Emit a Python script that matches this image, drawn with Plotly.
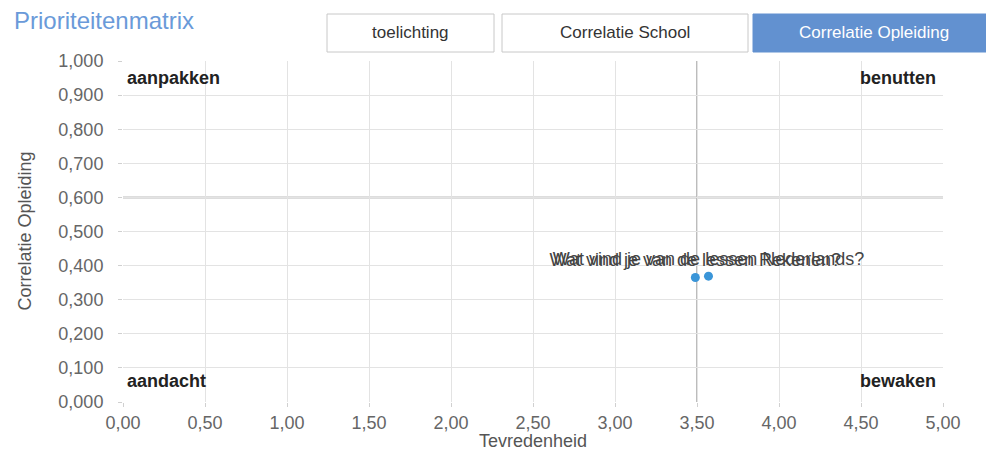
import plotly.graph_objects as go

# Data
questions = ["Wat vind je van de lessen Rekenen?", "Wat vind je van de lessen Nederlands?"]
tevredenheid = [3.49, 3.57]
correlatie = [0.365, 0.369]
x_threshold = 3.5
y_threshold = 0.6
quadrants = ["aanpakken", "benutten", "aandacht", "bewaken"]
buttons = ["toelichting", "Correlatie School", "Correlatie Opleiding"]

FONT = "Liberation Sans, Arial, sans-serif"
W, H = 994, 450
ML, MR, MT, MB = 115, 59, 53, 56
pw = W - ML - MR
ph = H - MT - MB


def px2x(p):
    return (p - ML) / pw


def py2y(p):
    return (H - MB - p) / ph


fig = go.Figure()
fig.add_trace(go.Scatter(
    x=tevredenheid, y=correlatie, mode="markers+text",
    text=questions, textposition="top center",
    textfont=dict(family=FONT, size=18, color="#444"),
    marker=dict(size=9, color="#3a95d8"),
    hoverinfo="x+y+text", showlegend=False, cliponaxis=False,
))

fig.add_shape(type="line", x0=x_threshold, x1=x_threshold, y0=0, y1=1,
              xref="x", yref="y", line=dict(color="#bcbcbc", width=2), layer="below")
fig.add_shape(type="line", x0=0, x1=5, y0=y_threshold, y1=y_threshold,
              xref="x", yref="y", line=dict(color="#bcbcbc", width=2), layer="below")

qfont = dict(family=FONT, size=18, color="#222")
pos = [(0, 1, "left", "top", 2, -5), (1, 1, "right", "top", -5, -5),
       (0, 0, "left", "bottom", 2, 9), (1, 0, "right", "bottom", -5, 9)]
for q, (px, py, xa, ya, xs, ys) in zip(quadrants, pos):
    fig.add_annotation(text="<b>%s</b>" % q, x=px, y=py, xref="paper", yref="paper",
                       xanchor=xa, yanchor=ya, xshift=xs, yshift=ys, showarrow=False, font=qfont)

# Title
fig.add_annotation(text="Prioriteitenmatrix", x=px2x(4), y=py2y(12), xref="paper", yref="paper",
                   xanchor="left", yanchor="middle", showarrow=False,
                   font=dict(family=FONT, size=24, color="#6a9ad9"))

# Axis titles
fig.add_annotation(text="Tevredenheid", x=0.5, y=py2y(433), xref="paper", yref="paper",
                   xanchor="center", yanchor="middle", showarrow=False,
                   font=dict(family=FONT, size=18, color="#555"))
fig.add_annotation(text="Correlatie Opleiding", x=px2x(16), y=0.5, xref="paper", yref="paper",
                   xanchor="center", yanchor="middle", textangle=-90, showarrow=False,
                   font=dict(family=FONT, size=18, color="#555"))

# Buttons
btn_pos = [(319, 486), (494, 740), (745, 1000)]
for i, (b, (x0, x1)) in enumerate(zip(buttons, btn_pos)):
    active = i == 2
    fig.add_shape(type="rect", xref="paper", yref="paper",
                  x0=px2x(x0), x1=px2x(x1), y0=py2y(44), y1=py2y(6),
                  line=dict(color="#6291d0" if active else "#c8c8c8", width=1),
                  fillcolor="#6291d0" if active else "white")
    cx = (x0 + x1) / 2 if not active else (x0 + 986) / 2
    fig.add_annotation(text=b, x=px2x(cx), y=py2y(24), xref="paper", yref="paper",
                       showarrow=False, xanchor="center", yanchor="middle",
                       font=dict(family=FONT, size=17,
                                 color="white" if active else "#333"))

axfont = dict(family=FONT, size=18, color="#666")
fig.update_layout(
    width=W, height=H, margin=dict(l=ML, r=MR, t=MT, b=MB, autoexpand=False),
    paper_bgcolor="white", plot_bgcolor="white",
    separators=",.",
    font=dict(family=FONT),
    xaxis=dict(range=[0, 5], dtick=0.5, tick0=0, tickformat=".2f",
               showgrid=True, gridcolor="#e3e3e3", gridwidth=1, zeroline=False,
               showline=False, ticks="outside", ticklen=4, tickcolor="#d0d0d0",
               tickfont=axfont),
    yaxis=dict(range=[0, 1], dtick=0.1, tick0=0, tickformat=".3f",
               showgrid=True, gridcolor="#e3e3e3", gridwidth=1, zeroline=False,
               showline=False, ticks="outside", ticklen=4, tickcolor="#d0d0d0",
               tickfont=axfont, ticklabelstandoff=11),
)

fig.write_html("out.html")
